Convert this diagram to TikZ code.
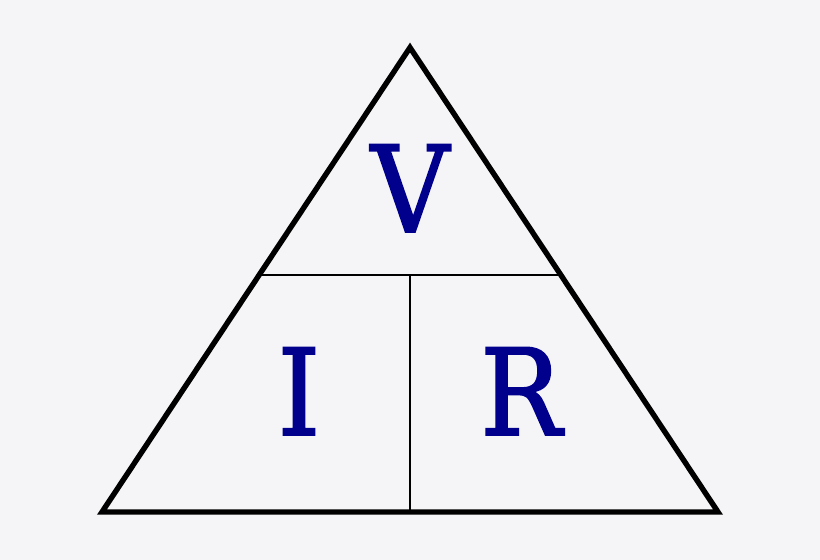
\documentclass[tikz,border=0pt]{standalone}
\usepackage{fontspec}
\setmainfont{DejaVu Serif}
\newfontfamily\lblfont[FakeBold=1.6]{DejaVu Serif Condensed}
\usetikzlibrary{calc}
\begin{document}
\begin{tikzpicture}[x=1pt,y=-1pt,
  outer/.style={line width=5.4pt,line join=miter},
  inner/.style={line width=2.5pt},
  lbl/.style={text=letterblue,font=\lblfont\fontsize{120}{120}\selectfont,inner sep=0pt,anchor=base}]
\definecolor{bg}{HTML}{F5F5F7}
\definecolor{letterblue}{HTML}{00008C}
\fill[bg] (0,0) rectangle (820,560);
\useasboundingbox (0,0) rectangle (820,560);
\coordinate (top) at (410,47.5);
\coordinate (bl) at (102,512);
\coordinate (br) at (718,512);
\coordinate (ml) at ($(bl)!0.510!(top)$);
\coordinate (mr) at ($(br)!0.510!(top)$);
\coordinate (mm) at ($(ml)!0.5!(mr)$);
\coordinate (mb) at (410,512);
\draw[inner] (ml) -- (mr);
\draw[inner] (mm) -- (mb);
\draw[outer] (top) -- (bl) -- (br) -- cycle;
\node[lbl] (v) at (410,232) {V};
\node[lbl] (i) at (299,435) {I};
\node[lbl] (r) at (521,435) {R};
\end{tikzpicture}
\end{document}
